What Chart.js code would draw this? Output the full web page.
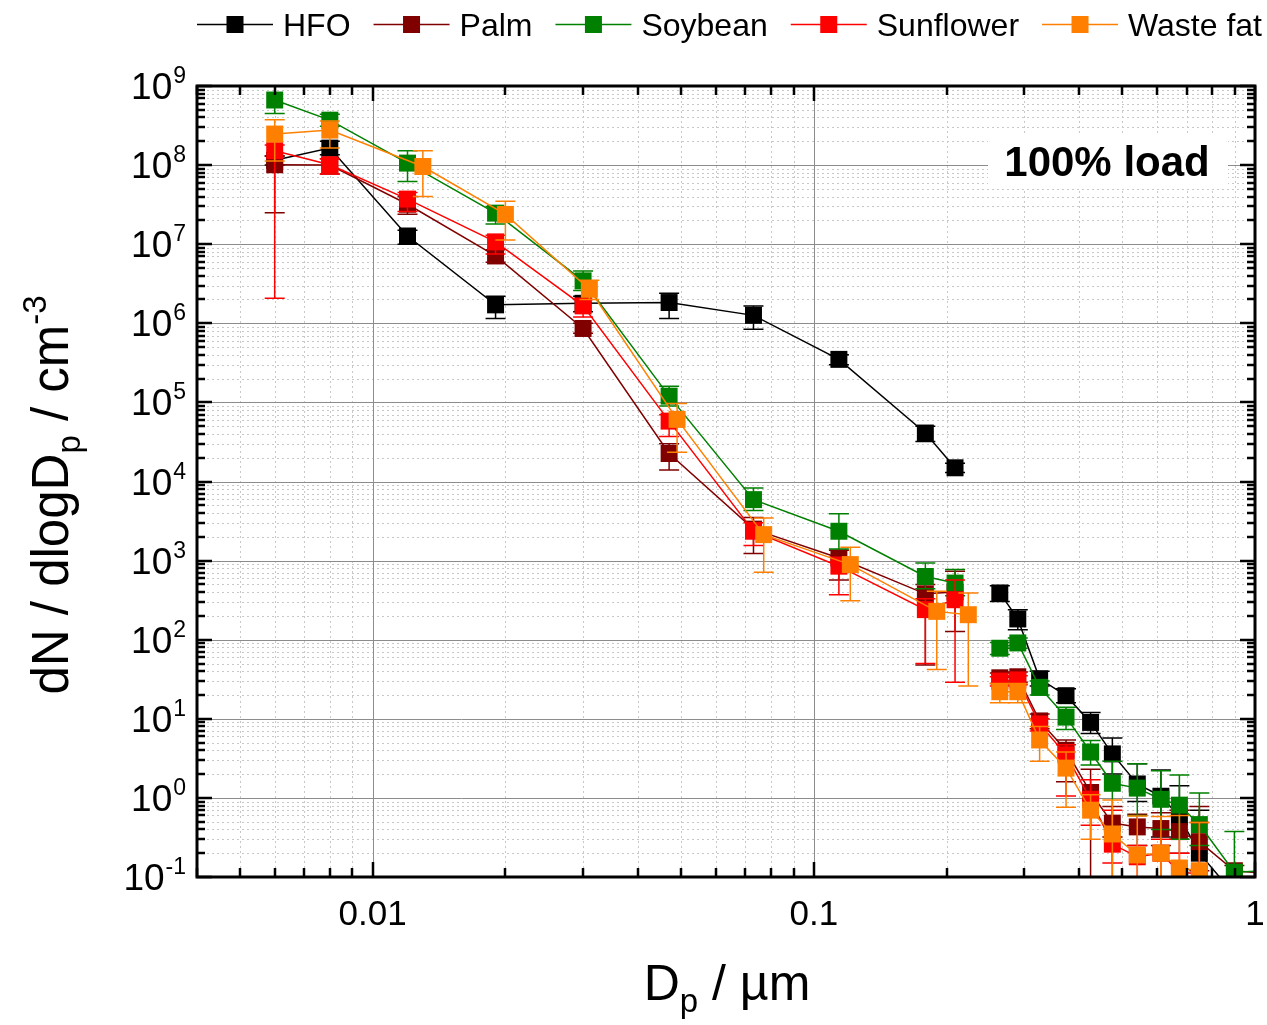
<!DOCTYPE html>
<html>
<head>
<meta charset="utf-8">
<title>dN/dlogDp - 100% load</title>
<script src="https://cdn.jsdelivr.net/npm/chart.js@4.4.1/dist/chart.umd.min.js"></script>
<style>
    html, body { margin: 0; padding: 0; background: #ffffff; }
    canvas { display: block; }
</style>
</head>
<body>
<canvas id="grafico_distribuicao" width="1267" height="1025"></canvas>
<script>
// Diâmetros (µm): SMPS e OPC
const diametrosSmps = [0.006, 0.008, 0.012, 0.019, 0.030, 0.047, 0.073, 0.114, 0.179, 0.209];
const diametrosSmpsResiduo = [0.006, 0.008, 0.013, 0.020, 0.031, 0.049, 0.077, 0.121, 0.190, 0.224];
const diametrosOpc = [0.264, 0.290, 0.325, 0.373, 0.424, 0.475, 0.541, 0.612, 0.674, 0.748, 0.898, 1.08];

const combustiveis = ["HFO", "Palm", "Soybean", "Sunflower", "Waste fat"];
const cores = ["#000000", "#800000", "#008000", "#ff0000", "#ff8000"];

// dN/dlogDp (cm-3) - 10 pontos SMPS + 12 pontos OPC
const hfo = [1.15e8, 1.64e8, 1.27e7, 1.71e6, 1.79e6, 1.83e6, 1.26e6, 3.5e5, 4.1e4, 1.49e4,
    390, 183, 32, 19.6, 9.0, 3.6, 1.5, 1.05, 0.58, 0.20, 0.06, null];
const hfoMin = [1.0e8, 1.35e8, 1.0e7, 1.15e6, 1.4e6, 1.15e6, 8.4e5, 3.0e5, 3.2e4, 1.3e4,
    305, 134, 26, 16, 6.5, 2.0, 0.9, 0.32, 0.30, 0.05, null, null];
const hfoMax = [1.3e8, 2.0e8, 1.5e7, 2.2e6, 2.2e6, 2.4e6, 1.66e6, 4.0e5, 5.0e4, 1.7e4,
    480, 240, 40, 24, 12, 5.7, 2.7, 2.26, 1.42, 0.70, null, null];

const palm = [1.01e8, 1.0e8, 3.2e7, 7.1e6, 8.6e5, 2.26e4, 2.5e3, 1.08e3, 380, 400,
    33, 34, 9.4, 4.0, 1.17, 0.48, 0.43, 0.41, 0.375, 0.28, 0.12, 0.11];
const palmMin = [2.5e7, 7.7e7, 2.4e7, 5.9e6, 7.5e5, 1.4e4, 1.23e3, 570, 48, 127,
    28, 29, 7.5, 1.6, 0.01, 0.32, 0.25, 0.25, 0.2, 0.12, 0.1, null];
const palmMax = [1.3e8, 1.2e8, 4.0e7, 8.5e6, 1.0e6, 3.0e4, 3.5e3, 1.35e3, 500, 733,
    38, 39, 11.5, 5.4, 2.3, 0.78, 0.62, 0.65, 0.70, 0.78, 0.14, null];

const soja = [6.65e8, 3.7e8, 1.06e8, 2.47e7, 3.44e6, 1.2e5, 5.9e3, 2.35e3, 630, 520,
    78, 91, 25, 10.5, 3.8, 1.53, 1.33, 0.96, 0.81, 0.46, 0.115, 0.12];
const sojaMin = [4.5e8, 3.1e8, 6.2e7, 1.8e7, 2.6e6, 9.0e4, 4.3e3, 1.4e3, 440, 360,
    65, 78, 20, 7.3, 2.6, 0.01, 0.6, 0.4, 0.3, 0.25, 0.01, null];
const sojaMax = [1.0e9, 4.4e8, 1.52e8, 3.0e7, 4.6e6, 1.6e5, 8.3e3, 3.9e3, 930, 770,
    92, 105, 30, 14, 5.3, 2.9, 2.7, 2.2, 1.95, 1.15, 0.375, null];

const girassol = [1.52e8, 1.01e8, 3.72e7, 1.07e7, 1.66e6, 5.8e4, 2.35e3, 850, 240, 320,
    30, 31, 8.6, 3.5, 0.96, 0.26, 0.18, 0.2, 0.115, 0.11, null, null];
const girassolMin = [2.07e6, 7.7e7, 2.6e7, 7.5e6, 1.2e6, 3.7e4, 1.55e3, 370, 50, 29,
    26, 27, 7.0, 1.06, 0.45, 0.15, 0.1, 0.1, 0.05, 0.05, null, null];
const girassolMax = [1.8e8, 1.2e8, 4.5e7, 1.3e7, 2.0e6, 7.0e4, 3.0e3, 1.1e3, 330, 570,
    34, 35, 10, 4.7, 1.7, 0.7, 0.25, 0.3, 0.2, 0.49, null, null];

const residuo = [2.47e8, 2.77e8, 9.6e7, 2.38e7, 2.69e6, 6.1e4, 2.13e3, 890, 228, 207,
    22, 22, 5.4, 2.38, 0.70, 0.35, 0.19, 0.2, 0.13, 0.12, null, null];
const residuoMin = [1.13e8, 1.64e8, 4.0e7, 1.13e7, 2.0e6, 2.35e4, 710, 310, 42, 26,
    16, 16, 2.9, 0.76, 0.3, 0.1, 0.1, 0.1, 0.05, 0.05, null, null];
const residuoMax = [3.75e8, 3.6e8, 1.52e8, 3.5e7, 3.5e6, 9.7e4, 3.46e3, 1.47e3, 410, 390,
    28, 28, 8, 3.8, 1.1, 0.94, 0.59, 0.58, 0.6, 0.49, null, null];

const textoCarga = "100% load";

var fonte = '"Liberation Sans", Arial, Helvetica, sans-serif';

// Monta os pontos {x, y, min, max}; a linha é interrompida entre SMPS e OPC
function montarPontos(xsSmps, valores, minimos, maximos) {
    let pontos = [];
    let xs = xsSmps.concat(diametrosOpc);
    for (let i = 0; i < xs.length; i++) {
        if (i == xsSmps.length) {
            pontos.push({ x: 0.24, y: null });
        }
        if (valores[i] == null) continue;
        pontos.push({ x: xs[i], y: valores[i], min: minimos[i], max: maximos[i] });
    }
    return pontos;
}

let series = [
    montarPontos(diametrosSmps, hfo, hfoMin, hfoMax),
    montarPontos(diametrosSmps, palm, palmMin, palmMax),
    montarPontos(diametrosSmps, soja, sojaMin, sojaMax),
    montarPontos(diametrosSmps, girassol, girassolMin, girassolMax),
    montarPontos(diametrosSmpsResiduo, residuo, residuoMin, residuoMax)
];

let dados = {
    datasets: []
};

for (let i = 0; i < series.length; i++) {
    dados.datasets.push({
        label: combustiveis[i],
        data: series[i],
        borderColor: cores[i],
        backgroundColor: cores[i],
        borderWidth: 1.5,
        pointStyle: 'rect',
        pointRadius: 12,
        pointBorderWidth: 0,
        tension: 0,
        spanGaps: false,
        clip: 0,
        // Waste fat desenhado por cima, HFO por baixo
        order: series.length - 1 - i
    });
}

// Grade pontilhada (menor) e cinza contínua (décadas)
function desenharGrade(chart) {
    const ctx = chart.ctx;
    const area = chart.chartArea;
    const sx = chart.scales.x;
    const sy = chart.scales.y;
    ctx.save();
    ctx.lineWidth = 1;

    ctx.strokeStyle = '#c8c8c8';
    ctx.setLineDash([2, 3]);
    for (let e = -3; e < 0; e++) {
        for (let k = 2; k <= 9; k++) {
            let v = k * Math.pow(10, e);
            if (v <= sx.min || v >= sx.max) continue;
            let px = Math.round(sx.getPixelForValue(v)) + 0.5;
            ctx.beginPath(); ctx.moveTo(px, area.top); ctx.lineTo(px, area.bottom); ctx.stroke();
        }
    }
    for (let e = -1; e < 9; e++) {
        for (let k = 2; k <= 9; k++) {
            let py = Math.round(sy.getPixelForValue(k * Math.pow(10, e))) + 0.5;
            ctx.beginPath(); ctx.moveTo(area.left, py); ctx.lineTo(area.right, py); ctx.stroke();
        }
    }

    ctx.setLineDash([]);
    ctx.strokeStyle = '#8c8c8c';
    [0.01, 0.1].forEach(function (v) {
        let px = Math.round(sx.getPixelForValue(v)) + 0.5;
        ctx.beginPath(); ctx.moveTo(px, area.top); ctx.lineTo(px, area.bottom); ctx.stroke();
    });
    for (let e = 0; e < 9; e++) {
        let py = Math.round(sy.getPixelForValue(Math.pow(10, e))) + 0.5;
        ctx.beginPath(); ctx.moveTo(area.left, py); ctx.lineTo(area.right, py); ctx.stroke();
    }
    ctx.restore();
}

// Caixa branca com o texto da carga do motor
function desenharRotulo(chart) {
    const ctx = chart.ctx;
    ctx.save();
    ctx.fillStyle = '#ffffff';
    ctx.fillRect(988, 134, 240, 54);
    ctx.fillStyle = '#000000';
    ctx.font = 'bold 42px ' + fonte;
    ctx.textAlign = 'center';
    ctx.textBaseline = 'alphabetic';
    ctx.fillText(textoCarga, 1107, 176);
    ctx.restore();
}

// Barras de erro de cada série, antes dos marcadores
function desenharBarrasErro(chart, indice) {
    const ctx = chart.ctx;
    const area = chart.chartArea;
    const sx = chart.scales.x;
    const sy = chart.scales.y;
    const pontos = chart.data.datasets[indice].data;
    ctx.save();
    ctx.beginPath();
    ctx.rect(area.left, area.top, area.right - area.left, area.bottom - area.top);
    ctx.clip();
    ctx.strokeStyle = cores[indice];
    ctx.lineWidth = 1.5;
    for (let i = 0; i < pontos.length; i++) {
        let p = pontos[i];
        if (p.y == null || p.min == null || p.max == null) continue;
        let px = sx.getPixelForValue(p.x);
        let yMin = sy.getPixelForValue(p.min);
        let yMax = sy.getPixelForValue(p.max);
        ctx.beginPath();
        ctx.moveTo(px, yMin); ctx.lineTo(px, yMax);
        ctx.moveTo(px - 10, yMin); ctx.lineTo(px + 10, yMin);
        ctx.moveTo(px - 10, yMax); ctx.lineTo(px + 10, yMax);
        ctx.stroke();
    }
    ctx.restore();
}

// Moldura, marcas para dentro e rótulos dos eixos
function desenharMoldura(chart) {
    const ctx = chart.ctx;
    const area = chart.chartArea;
    const sx = chart.scales.x;
    const sy = chart.scales.y;
    ctx.save();
    ctx.strokeStyle = '#000000';
    ctx.lineWidth = 2.5;

    for (let e = -3; e <= 0; e++) {
        for (let k = 1; k <= 9; k++) {
            let v = k * Math.pow(10, e);
            if (v < sx.min || v > sx.max) continue;
            let tam = k == 1 ? 15 : 9;
            let px = Math.round(sx.getPixelForValue(v));
            ctx.beginPath();
            ctx.moveTo(px, area.bottom); ctx.lineTo(px, area.bottom - tam);
            ctx.moveTo(px, area.top); ctx.lineTo(px, area.top + tam);
            ctx.stroke();
        }
    }
    for (let e = -1; e <= 9; e++) {
        for (let k = 1; k <= 9; k++) {
            if (e == 9 && k > 1) break;
            let tam = k == 1 ? 15 : 8;
            let py = Math.round(sy.getPixelForValue(k * Math.pow(10, e)));
            ctx.beginPath();
            ctx.moveTo(area.left, py); ctx.lineTo(area.left + tam, py);
            ctx.moveTo(area.right, py); ctx.lineTo(area.right - tam, py);
            ctx.stroke();
        }
    }

    ctx.lineWidth = 3;
    ctx.strokeRect(area.left, area.top, area.right - area.left, area.bottom - area.top);

    // Rótulos do eixo y: 10 elevado ao expoente
    ctx.fillStyle = '#000000';
    ctx.textBaseline = 'alphabetic';
    ctx.textAlign = 'left';
    for (let e = -1; e <= 9; e++) {
        let py = sy.getPixelForValue(Math.pow(10, e));
        ctx.font = '37px ' + fonte;
        let w10 = ctx.measureText("10").width;
        ctx.font = '23px ' + fonte;
        let expoente = String(e);
        let wExp = ctx.measureText(expoente).width;
        let x0 = area.left - 12 - wExp - w10;
        ctx.font = '37px ' + fonte;
        ctx.fillText("10", x0, py + 13);
        ctx.font = '23px ' + fonte;
        ctx.fillText(expoente, x0 + w10 + 1, py - 3);
    }

    // Rótulos do eixo x
    ctx.font = '35px ' + fonte;
    ctx.textAlign = 'center';
    [[0.01, "0.01"], [0.1, "0.1"], [1, "1"]].forEach(function (r) {
        ctx.fillText(r[1], sx.getPixelForValue(r[0]), 925);
    });
    ctx.restore();
}

// Escreve partes de texto em sequência (normal, subscrito, sobrescrito)
function escreverPartes(ctx, partes, x, y) {
    let total = 0;
    partes.forEach(function (p) {
        ctx.font = p.tam + 'px ' + fonte;
        total += ctx.measureText(p.txt).width;
    });
    let cx = x - total / 2;
    partes.forEach(function (p) {
        ctx.font = p.tam + 'px ' + fonte;
        ctx.fillText(p.txt, cx, y + p.dy);
        cx += ctx.measureText(p.txt).width;
    });
}

function desenharTitulos(chart) {
    const ctx = chart.ctx;
    ctx.save();
    ctx.fillStyle = '#000000';
    ctx.textAlign = 'left';
    ctx.textBaseline = 'alphabetic';

    escreverPartes(ctx, [
        { txt: "D", tam: 50, dy: 0 },
        { txt: "p", tam: 33, dy: 12 },
        { txt: " / µm", tam: 50, dy: 0 }
    ], 727, 1000);

    ctx.translate(68, 495);
    ctx.rotate(-Math.PI / 2);
    escreverPartes(ctx, [
        { txt: "dN / dlogD", tam: 51, dy: 0 },
        { txt: "p", tam: 33, dy: 12 },
        { txt: " / cm", tam: 51, dy: 0 },
        { txt: "-3", tam: 33, dy: -22 }
    ], 0, 0);
    ctx.restore();
}

// Legenda no topo: linha com marcador quadrado e nome do combustível
function desenharLegenda(chart) {
    const ctx = chart.ctx;
    ctx.save();
    ctx.font = '32px ' + fonte;
    const larguraLinha = 76;
    const espacoTexto = 10;
    let larguras = combustiveis.map(function (n) { return ctx.measureText(n).width; });
    let total = 0;
    for (let i = 0; i < larguras.length; i++) total += larguras[i] + larguraLinha + espacoTexto;
    let folga = (1262 - 197 - total) / (combustiveis.length - 1);
    let x = 197;
    const y = 24;
    for (let i = 0; i < combustiveis.length; i++) {
        ctx.strokeStyle = cores[i];
        ctx.lineWidth = 1.5;
        ctx.beginPath();
        ctx.moveTo(x, y + 0.5); ctx.lineTo(x + larguraLinha, y + 0.5);
        ctx.stroke();
        ctx.fillStyle = cores[i];
        ctx.fillRect(x + larguraLinha / 2 - 8.5, y - 8, 17, 17);
        ctx.fillStyle = '#000000';
        ctx.textBaseline = 'alphabetic';
        ctx.fillText(combustiveis[i], x + larguraLinha + espacoTexto, y + 12);
        x += larguraLinha + espacoTexto + larguras[i] + folga;
    }
    ctx.restore();
}

const pluginEixos = {
    id: 'eixosOrigin',
    beforeDatasetsDraw(chart) {
        desenharGrade(chart);
        desenharRotulo(chart);
    },
    beforeDatasetDraw(chart, args) {
        desenharBarrasErro(chart, args.index);
    },
    afterDatasetsDraw(chart) {
        desenharMoldura(chart);
    },
    afterDraw(chart) {
        desenharLegenda(chart);
        desenharTitulos(chart);
    }
};

// Criando estrutura para plotar gráfico - config
const config = {
    type: 'line',
    data: dados,
    options: {
        responsive: false,
        animation: false,
        events: [],
        layout: {
            padding: { left: 197, right: 9, top: 86, bottom: 148 }
        },
        scales: {
            x: { type: 'logarithmic', min: 0.004, max: 1, display: false },
            y: { type: 'logarithmic', min: 0.1, max: 1e9, display: false }
        },
        plugins: {
            legend: { display: false },
            tooltip: { enabled: false }
        }
    },
    plugins: [pluginEixos]
};

let myChart = new Chart(
    document.getElementById('grafico_distribuicao'),
    config,
);
</script>
</body>
</html>
